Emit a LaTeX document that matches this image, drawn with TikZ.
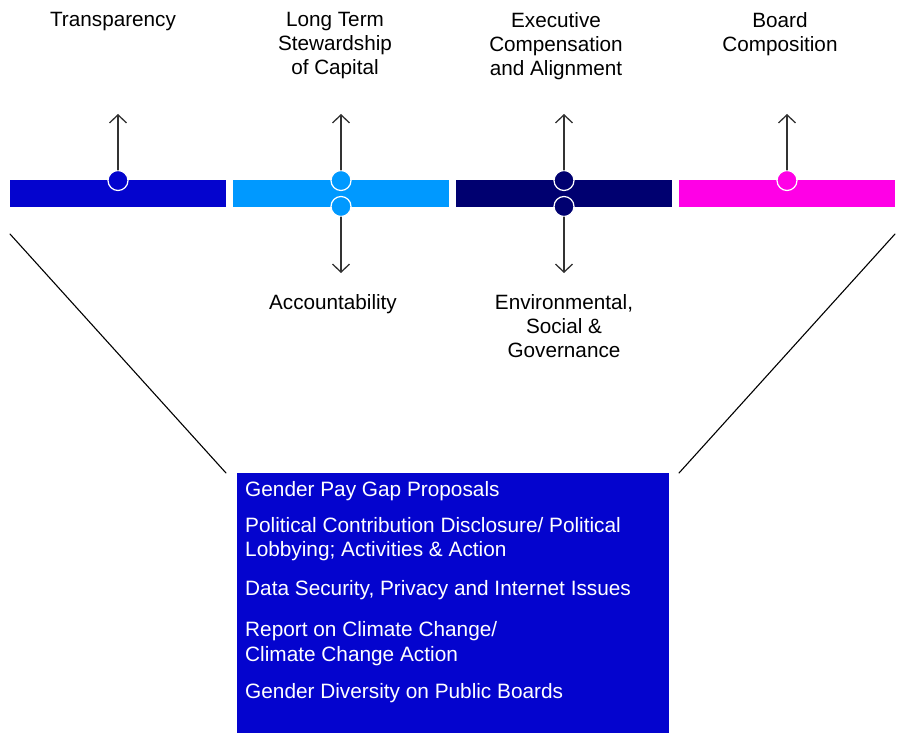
\documentclass[tikz,border=0pt]{standalone}
\usepackage{fontspec}
\setmainfont{Liberation Sans}
\usepackage{tikz}
\usetikzlibrary{arrows.meta}
\usetikzlibrary{positioning}
\usetikzlibrary{calc}

\definecolor{RoyalBar}{RGB}{4,4,206}
\definecolor{SkyBar}{RGB}{0,153,255}
\definecolor{NavyBar}{RGB}{0,0,112}
\definecolor{PinkBar}{RGB}{255,0,230}
\definecolor{ArrowGray}{RGB}{50,50,50}

\tikzset{
  bar/.style={rectangle,inner sep=0pt,minimum width=216pt,minimum height=27pt},
  dot/.style={circle,inner sep=0pt,minimum size=20pt,draw=white,line width=1.2pt},
  lbl/.style={align=center,font=\fontsize{20.7}{24}\selectfont,inner sep=0pt},
  item/.style={anchor=west,align=left,text=white,font=\fontsize{20.8}{24.5}\selectfont,inner sep=0pt},
  pin/.style={-{Straight Barb[length=8pt,width=17pt]},line width=1.3pt,color=ArrowGray}
}

\begin{document}
\begin{tikzpicture}[line cap=round,line join=round,x=1pt,y=-1pt]
\useasboundingbox (0,0) rectangle (902,733);
% the four bars
\node[bar,fill=RoyalBar] (b1) at (118,193.5) {};
\node[bar,fill=SkyBar]   (b2) at (341,193.5) {};
\node[bar,fill=NavyBar]  (b3) at (564,193.5) {};
\node[bar,fill=PinkBar]  (b4) at (787,193.5) {};
% dots on the bar edges
\node[dot,fill=RoyalBar] (d1) at (118,180.5) {};
\node[dot,fill=SkyBar]   (d2) at (341,180.5) {};
\node[dot,fill=SkyBar]   (e2) at (341,206.5) {};
\node[dot,fill=NavyBar]  (d3) at (564,180.5) {};
\node[dot,fill=NavyBar]  (e3) at (564,206.5) {};
\node[dot,fill=PinkBar]  (d4) at (787,180.5) {};
% arrow ends
\foreach \i/\x in {1/118,2/341,3/564,4/787}
  \coordinate (u\i) at (\x,114);
\coordinate (l2) at (341,273);
\coordinate (l3) at (564,273);
\foreach \i in {1,2,3,4}
  \draw[pin] (d\i.north) -- (u\i);
\draw[pin] (e2.south) -- (l2);
\draw[pin] (e3.south) -- (l3);
% labels
\node[lbl,anchor=north] (t1) at (113,12) {Transparency};
\node[lbl,anchor=north] (t2) at (335,12) {Long Term\\Stewardship\\of Capital};
\node[lbl,anchor=north] (t3) at (556,12) {Executive\\Compensation\\and Alignment};
\node[lbl,anchor=north] (t4) at (780,12) {Board\\Composition};
\node[lbl,anchor=north] (t5) at (333,294) {Accountability};
\node[lbl,anchor=north] (t6) at (564,294) {Environmental,\\Social \&\\Governance};
% funnel and box
\node[rectangle,fill=RoyalBar,inner sep=0pt,minimum width=432pt,minimum height=261pt,anchor=north west] (box) at (237,472.5) {};
\coordinate (f1) at (10,234);
\coordinate (f2) at (226,473);
\coordinate (f3) at (895,234);
\coordinate (f4) at (679,473);
\draw[line width=1.1pt] (f1) -- (f2);
\draw[line width=1.1pt] (f3) -- (f4);
\node[item] (i1) at (245,491) {Gender Pay Gap Proposals};
\node[item] (i2) at (245,539) {Political Contribution Disclosure/ Political\\Lobbying; Activities \& Action};
\node[item] (i3) at (245,590) {Data Security, Privacy and Internet Issues};
\node[item] (i4) at (245,643.5) {Report on Climate Change/\\Climate Change Action};
\node[item] (i5) at (245,693) {Gender Diversity on Public Boards};
\end{tikzpicture}
\end{document}
